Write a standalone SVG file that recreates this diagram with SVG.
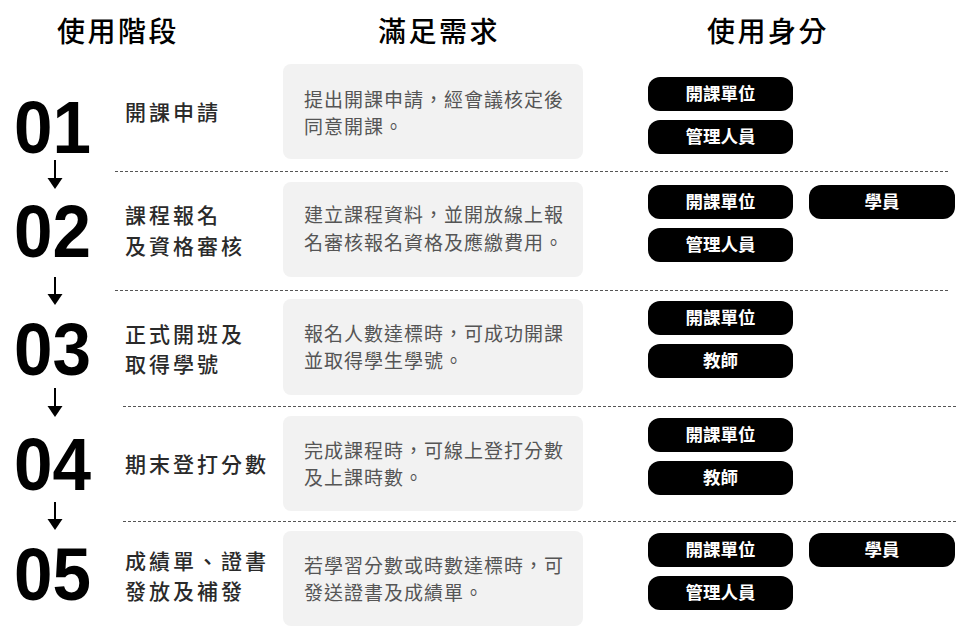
<svg xmlns="http://www.w3.org/2000/svg" width="957" height="627" viewBox="0 0 957 627">
<style>
.hd{font-family:"Noto Sans CJK TC","Noto Sans CJK SC",sans-serif;font-size:28px;font-weight:500;fill:#000;text-anchor:middle;letter-spacing:2.5px}
.num{font-family:"Liberation Sans",Arial,sans-serif;font-weight:bold;font-size:74px;fill:#000}
.lb{font-family:"Noto Sans CJK TC","Noto Sans CJK SC",sans-serif;font-size:21px;font-weight:500;fill:#2a2a2a;letter-spacing:3px}
.box{fill:#f2f2f2}
.bt{font-family:"Noto Sans CJK TC","Noto Sans CJK SC",sans-serif;font-size:19px;fill:#555;letter-spacing:1px}
.pill{fill:#000}
.pt{font-family:"Noto Sans CJK TC","Noto Sans CJK SC",sans-serif;font-size:17.5px;font-weight:bold;fill:#fff;text-anchor:middle}
.sep{stroke:#555;stroke-width:1;stroke-dasharray:3 2;fill:none}
.arr{stroke:#000;stroke-width:2;fill:none}
.head{fill:#000}
</style>
<g id="headers">
<text class="hd" x="118" y="42">使用階段</text>
<text class="hd" x="439" y="42">滿足需求</text>
<text class="hd" x="768" y="42">使用身分</text>
</g>
<g id="separators">
<line class="sep" x1="115" y1="171.5" x2="948" y2="171.5"/>
<line class="sep" x1="115" y1="290.5" x2="948" y2="290.5"/>
<line class="sep" x1="123" y1="406.5" x2="957" y2="406.5"/>
<line class="sep" x1="123" y1="521.5" x2="957" y2="521.5"/>
</g>
<g id="connectors">
<path d="M55,160 L55,178" class="arr"/><path class="head" d="M47.5,178 L62.5,178 L55,189 z"/>
<path d="M55,277 L55,294" class="arr"/><path class="head" d="M47.5,294 L62.5,294 L55,305 z"/>
<path d="M55,388 L55,406" class="arr"/><path class="head" d="M47.5,406 L62.5,406 L55,417 z"/>
<path d="M55,502 L55,519" class="arr"/><path class="head" d="M47.5,519 L62.5,519 L55,530 z"/>
</g>
<g id="stage1">
<text class="num" x="14" y="153" textLength="77" lengthAdjust="spacingAndGlyphs">01</text>
<text class="lb" x="125" y="120">開課申請</text>
<rect class="box" x="283" y="64" width="300" height="95" rx="8"/>
<text class="bt" x="304" y="107">提出開課申請，經會議核定後</text>
<text class="bt" x="304" y="134">同意開課。</text>
<rect class="pill" x="648" y="77" width="145" height="34" rx="12"/>
<text class="pt" x="720.5" y="100">開課單位</text>
<rect class="pill" x="648" y="120" width="145" height="34" rx="12"/>
<text class="pt" x="720.5" y="143">管理人員</text>
</g>
<g id="stage2">
<text class="num" x="14" y="257" textLength="77" lengthAdjust="spacingAndGlyphs">02</text>
<text class="lb" x="125" y="223">課程報名</text>
<text class="lb" x="125" y="254">及資格審核</text>
<rect class="box" x="283" y="182" width="300" height="95" rx="8"/>
<text class="bt" x="304" y="222">建立課程資料，並開放線上報</text>
<text class="bt" x="304" y="250">名審核報名資格及應繳費用。</text>
<rect class="pill" x="648" y="185" width="145" height="34" rx="12"/>
<text class="pt" x="720.5" y="208">開課單位</text>
<rect class="pill" x="809" y="185" width="146" height="34" rx="12"/>
<text class="pt" x="882" y="208">學員</text>
<rect class="pill" x="648" y="228" width="145" height="34" rx="12"/>
<text class="pt" x="720.5" y="251">管理人員</text>
</g>
<g id="stage3">
<text class="num" x="14" y="375" textLength="77" lengthAdjust="spacingAndGlyphs">03</text>
<text class="lb" x="125" y="342">正式開班及</text>
<text class="lb" x="125" y="372">取得學號</text>
<rect class="box" x="283" y="299" width="300" height="96" rx="8"/>
<text class="bt" x="304" y="341">報名人數達標時，可成功開課</text>
<text class="bt" x="304" y="368">並取得學生學號。</text>
<rect class="pill" x="648" y="301" width="145" height="34" rx="12"/>
<text class="pt" x="720.5" y="324">開課單位</text>
<rect class="pill" x="648" y="344" width="145" height="34" rx="12"/>
<text class="pt" x="720.5" y="367">教師</text>
</g>
<g id="stage4">
<text class="num" x="14" y="490" textLength="77" lengthAdjust="spacingAndGlyphs">04</text>
<text class="lb" x="125" y="472">期末登打分數</text>
<rect class="box" x="283" y="416" width="300" height="95" rx="8"/>
<text class="bt" x="304" y="458">完成課程時，可線上登打分數</text>
<text class="bt" x="304" y="485">及上課時數。</text>
<rect class="pill" x="648" y="418" width="145" height="34" rx="12"/>
<text class="pt" x="720.5" y="441">開課單位</text>
<rect class="pill" x="648" y="461" width="145" height="34" rx="12"/>
<text class="pt" x="720.5" y="484">教師</text>
</g>
<g id="stage5">
<text class="num" x="14" y="600" textLength="77" lengthAdjust="spacingAndGlyphs">05</text>
<text class="lb" x="125" y="569">成績單、證書</text>
<text class="lb" x="125" y="599">發放及補發</text>
<rect class="box" x="283" y="531" width="300" height="95" rx="8"/>
<text class="bt" x="304" y="573">若學習分數或時數達標時，可</text>
<text class="bt" x="304" y="600">發送證書及成績單。</text>
<rect class="pill" x="648" y="533" width="145" height="34" rx="12"/>
<text class="pt" x="720.5" y="556">開課單位</text>
<rect class="pill" x="809" y="533" width="146" height="34" rx="12"/>
<text class="pt" x="882" y="556">學員</text>
<rect class="pill" x="648" y="576" width="145" height="34" rx="12"/>
<text class="pt" x="720.5" y="599">管理人員</text>
</g>
</svg>
